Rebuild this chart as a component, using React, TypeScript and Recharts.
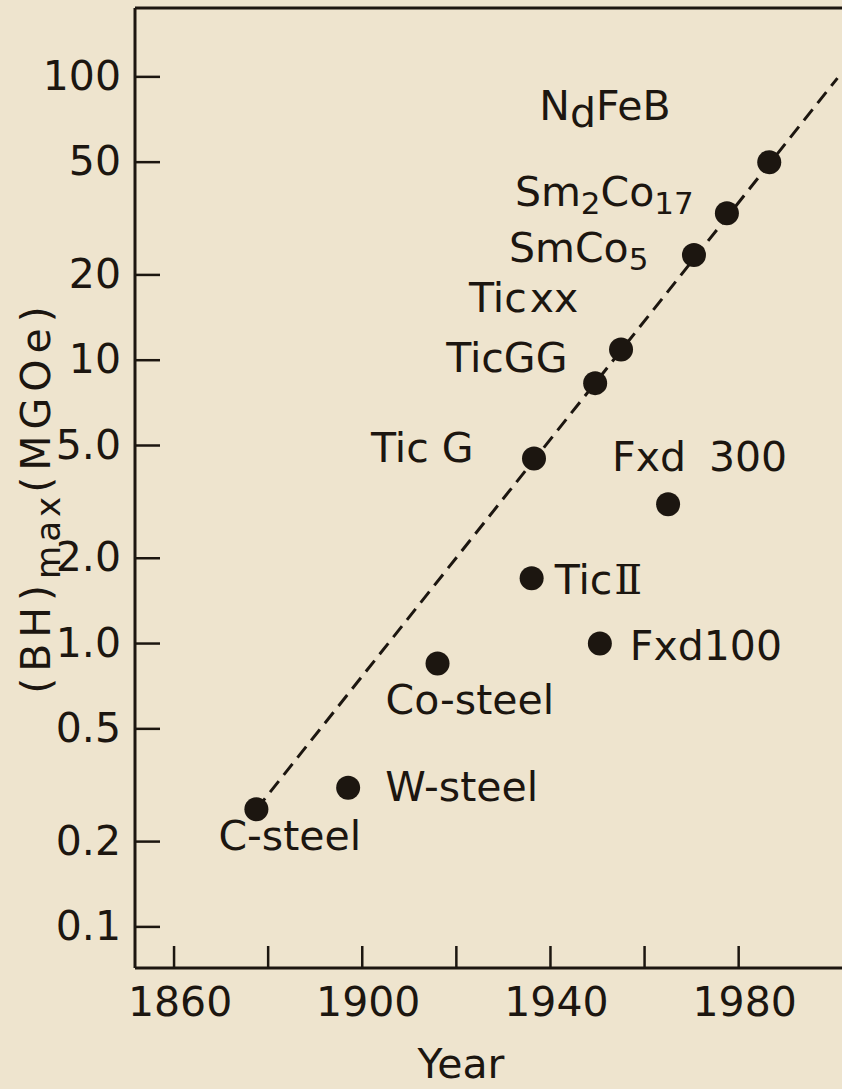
import React from 'react';
import { ScatterChart, Scatter, XAxis, YAxis } from 'recharts';

const INK = '#1c1610';
const BG = '#eee4ce';
const FONT = 'DejaVu Sans';

// magnet materials, (BH)max in MGOe against year of introduction
const magnetNames = ['C-steel', 'W-steel', 'Co-steel', 'TicII', 'TicG', 'Fxd100', 'TicGG', 'TicXX', 'Fxd300', 'SmCo5', 'Sm2Co17', 'NdFeB'];
const magnetYears = [1877.5, 1897, 1916, 1936, 1936.5, 1950.5, 1949.5, 1955, 1965, 1970.5, 1977.5, 1986.5];
const magnetBH = [0.26, 0.31, 0.85, 1.7, 4.5, 1.0, 8.3, 10.9, 3.1, 23.5, 33, 50];

// dashed trend line, start and end
const trendYears = [1877.5, 2001];
const trendBH = [0.26, 99];

const yearTicks = [1860, 1880, 1900, 1920, 1940, 1960, 1980];
const bhTicks = [0.1, 0.2, 0.5, 1, 2, 5, 10, 20, 50, 100];
const bhTickLabels = ['0.1', '0.2', '0.5', '1.0', '2.0', '5.0', '10', '20', '50', '100'];

const yearDomain = [1851.7, 2002.6];
const bhDomain = [0.0716, 175];

const magnets = magnetNames.map((name, i) => ({ name, year: magnetYears[i], bh: magnetBH[i] }));
const trend = trendYears.map((year, i) => ({ year, bh: trendBH[i] }));

// label placement relative to the dot: [dx to text start, dy to baseline]
const labelOffset: Record<string, [number, number]> = {
  'C-steel': [-38, 41],
  'W-steel': [37, 13],
  'Co-steel': [-52, 50],
  'TicII': [23, 16],
  'TicG': [-163, 4],
  'Fxd100': [30, 16],
  'TicGG': [-149, -11],
  'TicXX': [-152, -38],
  'Fxd300': [-56, -33],
  'SmCo5': [-185, 7],
  'Sm2Co17': [-212, -7],
  'NdFeB': [-230, -42],
};

// text pieces: [text, baseline drop px, gap before px]; drops >= 8 are subscripts
const labelParts: Record<string, Array<[string, number, number]>> = {
  'C-steel': [['C-steel', 0, 0]],
  'W-steel': [['W-steel', 0, 0]],
  'Co-steel': [['Co-steel', 0, 0]],
  'TicII': [['Tic', 0, 0], ['\u2161', 0, 2]],
  'TicG': [['Tic G', 0, 0]],
  'Fxd100': [['Fxd100', 0, 0]],
  'TicGG': [['TicGG', 0, 0]],
  'TicXX': [['Tic', 0, 0], ['xx', 0, 3]],
  'Fxd300': [['Fxd', 0, 0], ['300', 0, 23]],
  'SmCo5': [['SmCo', 0, 0], ['5', 8, 0]],
  'Sm2Co17': [['Sm', 0, 0], ['2', 8, 0], ['Co', 0, 0], ['17', 8, 0]],
  'NdFeB': [['N', 0, 0], ['d', 7, 0], ['FeB', 0, 0]],
};

const MagnetDot = (props: any) => {
  const { cx, cy, payload } = props;
  const [dx, dy] = labelOffset[payload.name] ?? [16, 0];
  let prev = 0;
  return (
    <g>
      <circle cx={cx} cy={cy} r={12} fill={INK} />
      <text x={cx + dx} y={cy + dy} fill={INK} fontSize={41} fontFamily={FONT}>
        {(labelParts[payload.name] ?? [[payload.name, 0, 0]]).map(([t, drop, gap], i) => {
          const shift = drop - prev;
          prev = drop;
          return (
            <tspan
              key={i}
              dx={gap}
              dy={shift}
              fontSize={drop >= 8 ? 31 : 41}
              fontFamily={t === '\u2161' ? 'DejaVu Serif' : FONT}
            >
              {t}
            </tspan>
          );
        })}
      </text>
    </g>
  );
};

const YearTick = (props: any) => {
  const { x, y, payload } = props;
  if ((payload.value - 1860) % 40 !== 0) return <g />;
  return (
    <text x={x + 6} y={y} textAnchor="middle" fill={INK} fontSize={41} fontFamily={FONT}>
      {payload.value}
    </text>
  );
};

const BHTick = (props: any) => {
  const { x, y, payload } = props;
  const i = bhTicks.indexOf(payload.value);
  return (
    <text x={x} y={y} dy="0.32em" textAnchor="end" fill={INK} fontSize={41} fontFamily={FONT}>
      {bhTickLabels[i]}
    </text>
  );
};

const BHTitle = (props: any) => {
  const vb = props.viewBox ?? { x: 0, y: 8, width: 135, height: 960 };
  const cx = vb.x + 50;
  const cy = vb.y + vb.height / 2 + 9;
  return (
    <text
      x={cx}
      y={cy}
      transform={`rotate(-90, ${cx}, ${cy})`}
      textAnchor="middle"
      fill={INK}
      fontSize={41}
      fontFamily={FONT}
      letterSpacing={6}
    >
      <tspan>(BH)</tspan>
      <tspan dy={10} fontSize={34} letterSpacing={4}>max</tspan>
      <tspan dy={-10}>(MGOe)</tspan>
    </text>
  );
};

const YearTitle = (props: any) => {
  const vb = props.viewBox ?? { x: 135, y: 968, width: 710, height: 121 };
  return (
    <text x={vb.x + vb.width / 2 - 29} y={vb.y + 110} textAnchor="middle" fill={INK} fontSize={41} fontFamily={FONT}>
      Year
    </text>
  );
};

const axisLine = { stroke: INK, strokeWidth: 3 };
const tickLine = { stroke: INK, strokeWidth: 2.5 };

export default function App() {
  return (
    <div style={{ position: 'fixed', inset: 0, background: BG, overflow: 'hidden' }}>
      <div style={{ position: 'absolute', left: 0, top: 0 }}>
        <ScatterChart width={860} height={1089} margin={{ top: 7, right: 0, bottom: 0, left: 0 }}>
          <XAxis
            type="number"
            dataKey="year"
            domain={yearDomain}
            ticks={yearTicks}
            interval={0}
            height={121}
            axisLine={axisLine}
            tickLine={tickLine}
            tickSize={-22}
            tickMargin={70}
            tick={<YearTick />}
            label={{ content: YearTitle }}
            allowDataOverflow
          />
          <XAxis
            xAxisId="top"
            orientation="top"
            type="number"
            domain={yearDomain}
            ticks={yearTicks}
            interval={0}
            height={1}
            axisLine={axisLine}
            tickLine={tickLine}
            tickSize={-24}
            tick={false}
            allowDataOverflow
          />
          <YAxis
            type="number"
            dataKey="bh"
            scale="log"
            domain={bhDomain}
            ticks={bhTicks}
            interval={0}
            width={135}
            axisLine={axisLine}
            tickLine={tickLine}
            tickSize={-25}
            tickMargin={39}
            tick={<BHTick />}
            label={{ content: BHTitle }}
            allowDataOverflow
          />
          <YAxis
            yAxisId="right"
            orientation="right"
            type="number"
            scale="log"
            domain={bhDomain}
            ticks={bhTicks}
            interval={0}
            width={15}
            axisLine={axisLine}
            tickLine={tickLine}
            tickSize={-25}
            tick={false}
            allowDataOverflow
          />
          <Scatter
            data={trend}
            line={{ stroke: INK, strokeWidth: 3, strokeDasharray: '14 8' }}
            shape={() => <g />}
            isAnimationActive={false}
          />
          <Scatter data={magnets} shape={<MagnetDot />} isAnimationActive={false} />
        </ScatterChart>
      </div>
    </div>
  );
}
